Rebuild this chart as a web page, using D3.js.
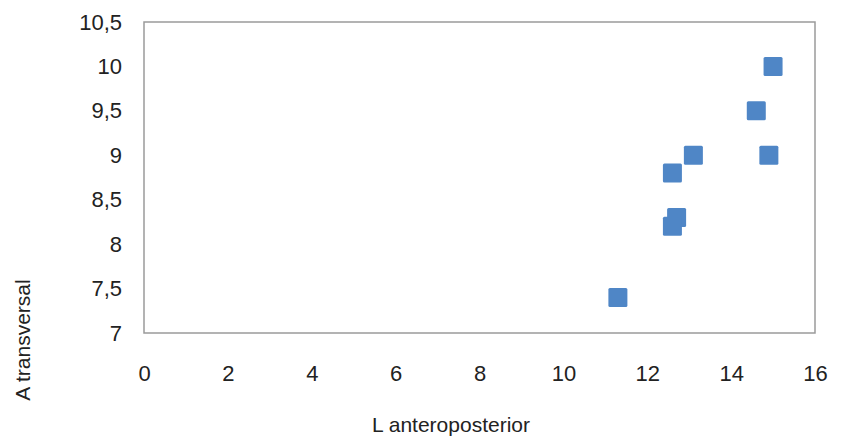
<!DOCTYPE html>
<html><head><meta charset="utf-8">
<script src="https://cdn.jsdelivr.net/npm/d3@7"></script>
<style>body{margin:0;background:#fff}svg{display:block}</style>
</head><body>
<svg id="c" width="841" height="437"></svg>
<script>
const xValues = [15.0, 14.6, 14.9, 13.1, 12.6, 12.7, 12.6, 11.3];
const yValues = [10.0, 9.5, 9.0, 9.0, 8.8, 8.3, 8.2, 7.4];
const xTicks = [0, 2, 4, 6, 8, 10, 12, 14, 16];
const yTicks = [7, 7.5, 8, 8.5, 9, 9.5, 10, 10.5];
const xTitle = "L anteroposterior";
const yTitle = "A transversal";

const svg = d3.select("#c");
const L = 144, R = 815, T = 22, B = 333;
const x = d3.scaleLinear().domain([0, 16]).range([L, R]);
const y = d3.scaleLinear().domain([7, 10.5]).range([B, T]);
const font = "'Liberation Sans', Arial, sans-serif";
const fmt = d => String(d).replace(".", ",");

svg.append("rect").attr("x", L).attr("y", T).attr("width", R - L).attr("height", B - T)
  .attr("fill", "none").attr("stroke", "#9a9a9a").attr("stroke-width", 1.5);

const yAxis = svg.append("g").attr("transform", `translate(${L},0)`)
  .call(d3.axisLeft(y).tickValues(yTicks).tickFormat(fmt).tickSize(0).tickPadding(22));
yAxis.select(".domain").remove();
yAxis.selectAll("text").attr("font-family", font).attr("font-size", 22).attr("fill", "#222");

const xAxis = svg.append("g").attr("transform", `translate(0,${B})`)
  .call(d3.axisBottom(x).tickValues(xTicks).tickFormat(fmt).tickSize(0).tickPadding(32));
xAxis.select(".domain").remove();
xAxis.selectAll("text").attr("font-family", font).attr("font-size", 22).attr("fill", "#222");

const s = 19;
svg.append("g").selectAll("rect").data(xValues.map((v, i) => [v, yValues[i]])).join("rect")
  .attr("x", d => x(d[0]) - s / 2).attr("y", d => y(d[1]) - s / 2)
  .attr("width", s).attr("height", s).attr("rx", 1.5)
  .attr("fill", "#4f86c6");

svg.append("text").attr("x", 372).attr("y", 432).attr("text-anchor", "start")
  .attr("font-family", font).attr("font-size", 21).attr("fill", "#222").text(xTitle);
svg.append("text").attr("transform", "translate(30,340) rotate(-90)").attr("text-anchor", "middle")
  .attr("font-family", font).attr("font-size", 21).attr("fill", "#222").text(yTitle);
</script>
</body></html>
